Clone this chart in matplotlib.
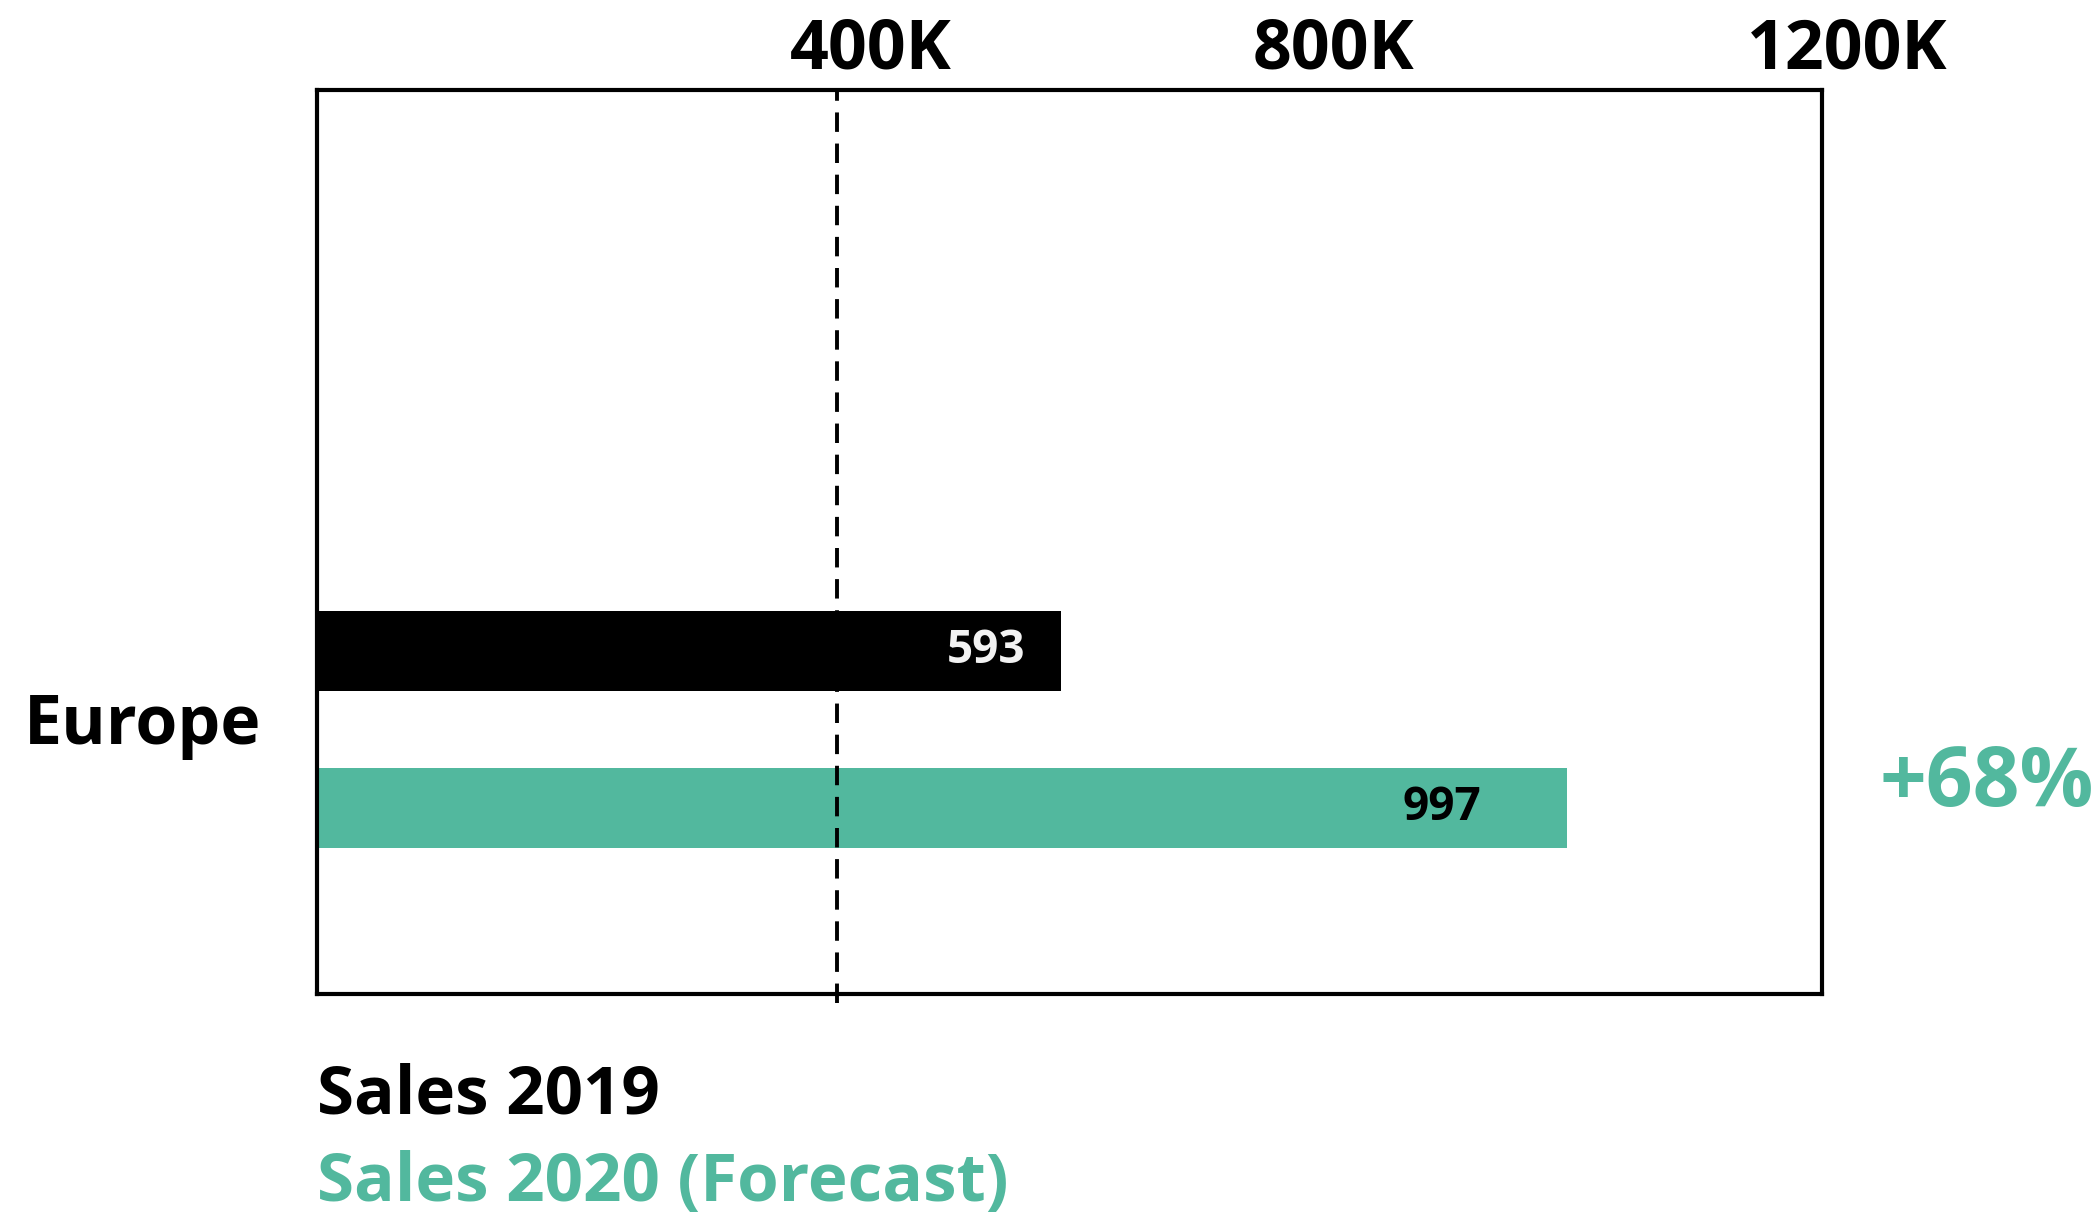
import matplotlib.pyplot as plt
import matplotlib.transforms as mtransforms

plt.rcParams['font.family'] = ['Open Sans', 'DejaVu Sans']
plt.rcParams['font.weight'] = 'bold'

region = 'Europe'
series = ['Sales 2019', 'Sales 2020 (Forecast)']
values = [593, 997]          # in K
colors = ['#000000', '#52B89E']
label_colors = ['#f2f2f2', '#000000']
ref_value = 415              # dashed reference line
x_ticks = [400, 800, 1200]
x_tick_labels = ['400K', '800K', '1200K']

fig = plt.figure(figsize=(21, 12.17), dpi=100)
ax = fig.add_axes([317 / 2100, 1 - 994 / 1217, 1505 / 2100, 904 / 1217])

ypos = [0, 1]
ax.barh(ypos, values, height=0.51, color=colors)

for y, v, c in zip(ypos, values, label_colors):
    ax.text(v * 0.9, y, str(v), ha='center', va='center', fontsize=33, color=c)

ax.axvline(ref_value, ymin=-0.01, ymax=1, color='black', lw=2.8,
           linestyle=(0, (5, 3)), clip_on=False, zorder=3)

change = (values[1] - values[0]) / values[0] * 100
trans = mtransforms.blended_transform_factory(ax.transAxes, ax.transData)
ax.text(1.038, 0.85, f'+{change:.0f}%', transform=trans, ha='left', va='center',
        fontsize=59, color=colors[1])

ax.set_xlim(0, 1200)
ax.set_ylim(2.19, -3.58)
ax.xaxis.tick_top()
ax.set_xticks(x_ticks)
ax.set_xticklabels(x_tick_labels, fontsize=49)
ax.tick_params(axis='x', length=0, pad=4)
offsets = [52, 13, 25]
for lbl, dx in zip(ax.get_xticklabels(), offsets):
    lbl.set_transform(lbl.get_transform() + mtransforms.ScaledTranslation(dx / 100, 0, fig.dpi_scale_trans))

ax.set_yticks([0.5])
ax.set_yticklabels([region], fontsize=49)
ax.tick_params(axis='y', length=0, pad=40)
for lbl in ax.get_yticklabels():
    lbl.set_transform(lbl.get_transform() + mtransforms.ScaledTranslation(0, 0.11, fig.dpi_scale_trans))

for s in ax.spines.values():
    s.set_linewidth(3)

fig.text(317 / 2100, 1 - 1096 / 1217, series[0], ha='left', va='center',
         fontsize=48.5, color=colors[0])
fig.text(317 / 2100, 1 - 1184 / 1217, series[1], ha='left', va='center',
         fontsize=48.5, color=colors[1])

fig.savefig('out.png', dpi=100)
